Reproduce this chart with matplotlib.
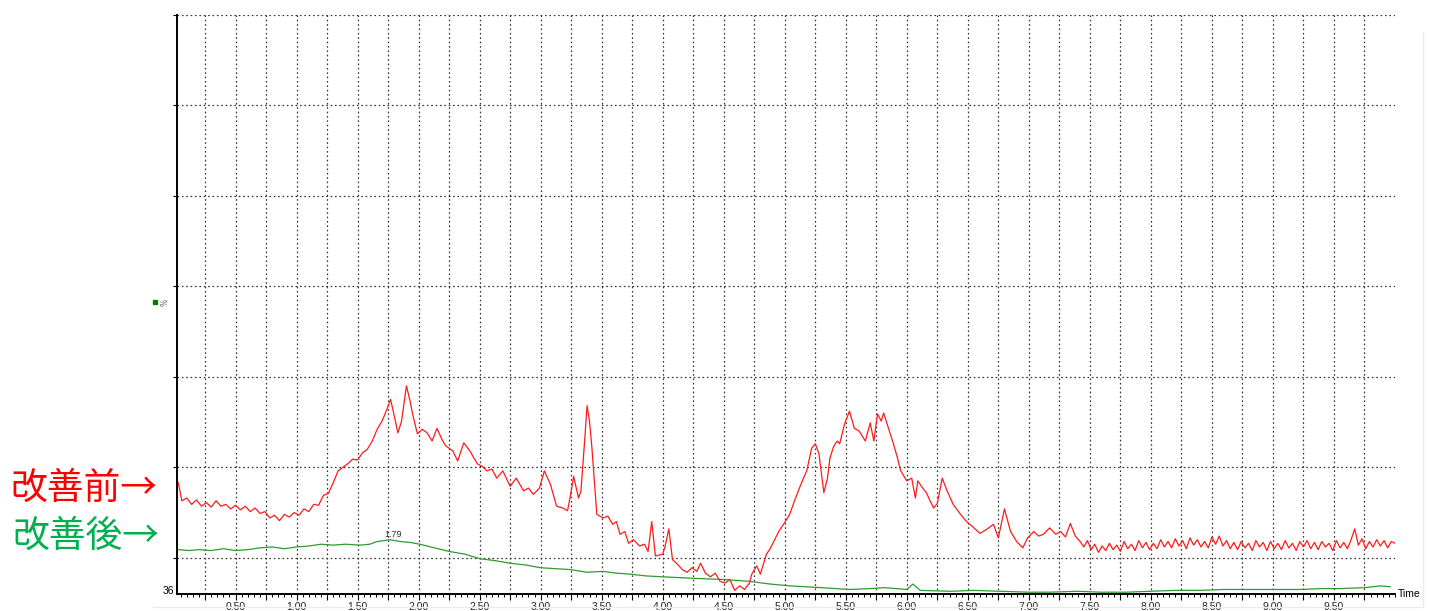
#!/usr/bin/env python

import numpy as np
from matplotlib import pyplot as plt
from matplotlib import ticker
from matplotlib.lines import Line2D

# retention time (min) and relative intensity (%)
before_time = [
    0.03, 0.06, 0.10, 0.14, 0.18, 0.22, 0.26, 0.30, 0.34, 0.38, 0.42, 0.46,
    0.50, 0.54, 0.58, 0.62, 0.66, 0.70, 0.74, 0.78, 0.82, 0.86, 0.90, 0.94,
    0.98, 1.02, 1.06, 1.10, 1.14, 1.18, 1.22, 1.26, 1.30, 1.34, 1.38, 1.42,
    1.46, 1.50, 1.54, 1.58, 1.62, 1.66, 1.70, 1.74, 1.77, 1.80, 1.83, 1.86,
    1.90, 1.93, 1.95, 1.99, 2.03, 2.07, 2.11, 2.15, 2.19, 2.22, 2.28, 2.32,
    2.37, 2.42, 2.48, 2.52, 2.56, 2.60, 2.64, 2.69, 2.75, 2.80, 2.86, 2.90,
    2.94, 2.99, 3.03, 3.08, 3.13, 3.18, 3.22, 3.24, 3.27, 3.31, 3.33, 3.36,
    3.38, 3.40, 3.42, 3.46, 3.51, 3.55, 3.59, 3.62, 3.65, 3.69, 3.72, 3.76,
    3.81, 3.85, 3.88, 3.91, 3.94, 4.00, 4.02, 4.05, 4.08, 4.12, 4.16, 4.20,
    4.24, 4.28, 4.31, 4.35, 4.39, 4.43, 4.47, 4.51, 4.55, 4.59, 4.63, 4.67,
    4.71, 4.73, 4.77, 4.80, 4.85, 4.88, 4.91, 4.95, 4.99, 5.04, 5.08, 5.12,
    5.15, 5.18, 5.22, 5.25, 5.28, 5.32, 5.35, 5.37, 5.40, 5.43, 5.45, 5.49,
    5.53, 5.57, 5.61, 5.66, 5.70, 5.73, 5.76, 5.79, 5.81, 5.85, 5.89, 5.92,
    5.95, 6.00, 6.04, 6.07, 6.09, 6.13, 6.16, 6.19, 6.22, 6.25, 6.29, 6.33,
    6.38, 6.44, 6.49, 6.55, 6.60, 6.66, 6.71, 6.75, 6.80, 6.85, 6.90, 6.95,
    6.99, 7.04, 7.08, 7.12, 7.17, 7.22, 7.26, 7.30, 7.34, 7.38,
]
before_pct = [
    48.3, 46.3, 46.6, 45.9, 46.4, 45.7, 46.1, 45.6, 46.3, 45.7, 45.9, 45.4,
    45.8, 45.3, 45.7, 45.1, 45.5, 44.9, 45.1, 44.4, 44.7, 44.1, 44.8, 44.5,
    45.0, 44.7, 45.4, 45.1, 45.9, 45.8, 46.9, 47.1, 48.3, 49.6, 50.0, 50.4,
    50.9, 50.8, 51.6, 52.0, 52.9, 54.2, 55.1, 56.4, 57.5, 55.7, 53.8, 55.1,
    59.0, 57.3, 55.9, 53.7, 54.2, 53.8, 52.9, 54.3, 53.1, 52.4, 51.8, 50.7,
    52.7, 51.8, 50.4, 50.1, 49.6, 49.8, 48.8, 49.6, 47.9, 48.8, 47.4, 47.7,
    47.0, 47.7, 49.6, 48.1, 45.7, 45.5, 45.2, 46.6, 49.0, 46.6, 47.4, 52.9,
    56.8, 55.1, 52.1, 44.8, 44.4, 44.6, 43.7, 44.0, 42.6, 42.9, 41.6, 42.0,
    41.3, 41.5, 40.7, 44.0, 40.2, 40.4, 41.3, 43.2, 39.8, 39.3, 38.7, 38.4,
    38.9, 38.5, 39.4, 38.3, 37.9, 38.3, 37.4, 37.2, 37.6, 36.4, 36.9, 36.5,
    37.2, 38.2, 39.1, 38.2, 40.4, 41.0, 41.8, 42.9, 43.7, 44.8, 46.3, 47.7,
    48.7, 49.6, 52.1, 52.6, 51.5, 47.2, 48.8, 51.0, 52.3, 52.9, 52.6, 54.8,
    56.2, 54.3, 54.0, 52.9, 54.9, 52.9, 55.9, 55.1, 56.0, 54.3, 52.6, 51.2,
    49.6, 48.5, 48.8, 46.6, 48.5, 47.7, 47.2, 46.3, 45.5, 46.0, 48.8, 47.4,
    45.9, 44.8, 44.0, 43.3, 42.7, 43.2, 43.7, 42.2, 45.4, 42.9, 41.8, 41.1,
    42.2, 42.9, 42.4, 42.6, 43.3, 42.6, 42.9, 42.3, 43.8, 42.4,
]
# noisy baseline at the end of the "before" run
before_tail_time = [
    7.42, 7.45, 7.48, 7.51, 7.54, 7.57, 7.60, 7.63, 7.66, 7.69,
    7.72, 7.75, 7.78, 7.81, 7.84, 7.87, 7.90, 7.93, 7.96, 7.99,
    8.02, 8.05, 8.08, 8.11, 8.14, 8.17, 8.20, 8.23, 8.26, 8.29,
    8.32, 8.35, 8.38, 8.41, 8.44, 8.47, 8.50, 8.53, 8.56, 8.59,
    8.62, 8.65, 8.68, 8.71, 8.74, 8.77, 8.80, 8.83, 8.86, 8.89,
    8.92, 8.95, 8.98, 9.01, 9.04, 9.07, 9.10, 9.13, 9.16, 9.19,
    9.22, 9.25, 9.28, 9.31, 9.34, 9.37, 9.40, 9.43, 9.46, 9.49,
    9.52, 9.55, 9.58, 9.61, 9.64, 9.67, 9.70, 9.73, 9.76, 9.79,
    9.82, 9.85, 9.88, 9.91, 9.94, 9.97, 10.0,
]
before_tail_pct = [
    41.8, 41.2, 41.9, 40.9, 41.5, 40.6, 41.3, 40.8, 41.6, 40.9,
    41.4, 40.7, 41.8, 41.0, 41.5, 40.8, 41.9, 41.1, 41.7, 40.9,
    41.6, 41.0, 42.0, 41.2, 41.8, 41.1, 42.1, 41.3, 41.9, 41.0,
    42.2, 41.4, 42.0, 41.2, 41.8, 41.1, 42.3, 41.5, 42.4, 41.3,
    41.9, 41.0, 41.7, 40.9, 41.8, 41.1, 41.6, 40.8, 41.9, 41.2,
    41.7, 40.8, 41.8, 41.0, 41.6, 40.9, 41.9, 41.1, 41.6, 40.8,
    41.8, 41.2, 41.9, 41.0, 41.7, 40.9, 41.8, 41.2, 41.6, 40.8,
    41.9, 41.1, 41.7, 41.0, 42.0, 43.2, 41.4, 42.1, 41.0, 41.8,
    41.2, 42.0, 41.3, 41.9, 41.1, 41.8, 41.6,
]

after_time = [
    0.03, 0.12, 0.20, 0.30, 0.40, 0.50, 0.60, 0.70, 0.80, 0.90, 1.00, 1.10,
    1.20, 1.30, 1.40, 1.52, 1.60, 1.66, 1.72, 1.76, 1.85, 1.93, 2.01, 2.10,
    2.25, 2.38, 2.50, 2.62, 2.75, 2.88, 3.00, 3.12, 3.24, 3.38, 3.51, 3.62,
    3.73, 3.86, 4.00, 4.15, 4.31, 4.50, 4.71, 4.88, 5.04, 5.30, 5.53, 5.70,
    5.82, 6.00, 6.05, 6.11, 6.36, 6.55, 6.77, 7.00, 7.17, 7.40, 7.59, 7.80,
    7.99, 8.20, 8.40, 8.60, 8.81, 9.00, 9.22, 9.40, 9.55, 9.75, 9.88, 9.96,
]
after_pct = [
    40.9, 40.8, 40.9, 40.8, 41.0, 40.8, 40.9, 41.1, 41.2, 41.0, 41.2, 41.3,
    41.5, 41.4, 41.5, 41.4, 41.5, 41.8, 41.9, 42.0, 41.8, 41.7, 41.5, 41.2,
    40.7, 40.4, 39.9, 39.7, 39.4, 39.2, 38.9, 38.8, 38.7, 38.4, 38.5, 38.3,
    38.2, 38.0, 37.9, 37.8, 37.7, 37.6, 37.4, 37.1, 36.9, 36.7, 36.5, 36.6,
    36.7, 36.5, 37.1, 36.4, 36.3, 36.4, 36.3, 36.2, 36.2, 36.3, 36.2, 36.2,
    36.3, 36.4, 36.4, 36.5, 36.5, 36.5, 36.5, 36.6, 36.6, 36.7, 36.9, 36.8,
]

peak_time = 1.79
peak_label = "1.79"
x_range = (0.02, 10.0)
y_range = (36, 100)

fig = plt.figure(figsize=(14.29, 6.11), dpi=100)
ax = fig.add_axes([177 / 1429, 17 / 611, 1218 / 1429, 579.3 / 611])

ax.plot(before_time + before_tail_time, before_pct + before_tail_pct,
        color='#ff1a1a', lw=0.9)
ax.plot(after_time, after_pct, color='#2f9a2f', lw=0.9)

ax.set_xlim(*x_range)
ax.set_ylim(*y_range)

# dotted grid every 0.25 min and every 10 %
dots = (0, (1.3, 2.2))
ax.set_xticks(np.arange(0.25, 10.0, 0.25))
ax.xaxis.set_minor_locator(ticker.MultipleLocator(0.05))
ax.xaxis.set_major_formatter(ticker.FuncFormatter(
    lambda v, pos: "%.2f" % v if abs(v * 2 - round(v * 2)) < 1e-6 else ""))
ax.set_yticks(np.arange(40, 101, 10))
ax.set_yticklabels([])
ax.grid(True, color='#333333', linestyle=dots, linewidth=0.9)

ax.tick_params(axis='x', which='major', length=4, width=0.8, labelsize=7.5,
               pad=2, labelcolor='#222222')
ax.tick_params(axis='x', which='minor', length=2.5, width=0.7)
ax.tick_params(axis='y', length=3, width=0.8)
for name in ('top', 'right'):
    ax.spines[name].set_visible(False)
for name in ('left', 'bottom'):
    ax.spines[name].set_linewidth(1.4)
for lab in ax.get_xticklabels():
    lab.set_family('Liberation Sans')

ax.annotate('36', xy=(0, y_range[0]), xycoords=('axes fraction', 'data'),
            xytext=(-2, 2), textcoords='offset points', ha='right',
            va='center', fontsize=7.5, family='Liberation Sans')
ax.annotate('Time', xy=(1, 0), xycoords='axes fraction', xytext=(2, 0),
            textcoords='offset points', ha='left', va='center', fontsize=7.5,
            family='Liberation Sans')
ax.text(-0.006, 0.504, '%', transform=ax.transAxes, rotation=90,
        fontsize=5.5, color='#666666', ha='right', va='center')
ax.plot([-0.018], [0.504], 's', color='#008000', ms=3.5,
        transform=ax.transAxes, clip_on=False)
ax.text(peak_time, 42.6, peak_label, fontsize=6.5, color='#333333',
        ha='center', va='center', family='Liberation Sans')

# faint right and bottom edge of the original screenshot
fig.lines.append(Line2D([153 / 1429, 1423 / 1429, 1423 / 1429],
                        [1 - 607 / 611, 1 - 607 / 611, 1 - 32 / 611],
                        transform=fig.transFigure, color='#ececec', lw=1))

cjk = ['Noto Sans CJK JP', 'DejaVu Sans']
fig.text(10 / 1429, 1 - 488 / 611, '改善前→', color='#ff0000', fontsize=26.5,
         family=cjk, ha='left', va='center')
fig.text(12 / 1429, 1 - 536 / 611, '改善後→', color='#00b050', fontsize=26.5,
         family=cjk, ha='left', va='center')

fig.savefig('out.png', dpi=100)
